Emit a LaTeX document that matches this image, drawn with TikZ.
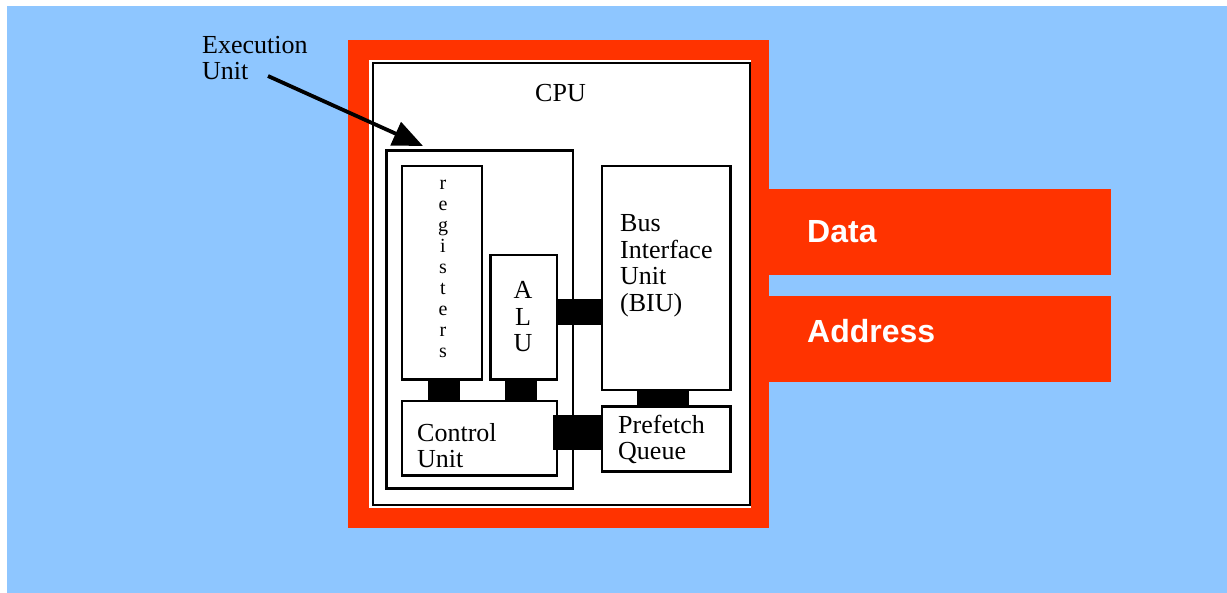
\documentclass[tikz,border=0pt]{standalone}
\usepackage{fontspec}
\setmainfont{Liberation Serif}
\newfontfamily\busfont{Liberation Sans}
\usepackage{xcolor}
\usetikzlibrary{arrows.meta,calc}
\definecolor{SkyBlue}{RGB}{142,198,255}
\definecolor{BusRed}{RGB}{255,51,0}

\begin{document}
\begin{tikzpicture}[x=1pt, y=-1pt,
		box/.style={draw, line width=2.2pt, fill=white, inner sep=0pt, outer sep=0pt, anchor=north west},
		bar/.style={line width=#1, line cap=butt},
		txt/.style={inner sep=0pt, font=\fontsize{26}{26.5}\selectfont, align=left},
		busbar/.style={fill=BusRed, inner sep=0pt, outer sep=0pt, anchor=north west, minimum width=342pt, minimum height=86pt},
		bustxt/.style={inner sep=0pt, anchor=base west, text=white, font=\busfont\bfseries\fontsize{32}{36}\selectfont},
		pointer/.style={-{Triangle[length=30pt,width=25pt]}, line width=3.8pt}]
		\useasboundingbox (0,0) rectangle (1227,593);
		
		% 背景
		\fill[SkyBlue] (7,6) rectangle (1227,593);
		
		% 红色外框与总线
		\fill[BusRed] (348,40) rectangle (769,528);
		\fill[white] (369,60) rectangle (751,508);
		\node[busbar] (data) at (769,189) {};
		\node[busbar] (address) at (769,296) {};
		\node[bustxt] (datalbl) at (807,243) {Data};
		\node[bustxt] (addrlbl) at (807,343) {Address};
		
		% CPU 与各单元
		\node[box, minimum width=377pt, minimum height=442pt] (cpu) at (373,63) {};
		\node[box, line width=2.8pt, minimum width=186.5pt, minimum height=338pt] (exec) at (386.5,150.5) {};
		\node[box, minimum width=80pt, minimum height=213.5pt] (regs) at (402,166) {};
		\node[box, minimum width=66.5pt, minimum height=124.5pt] (alu) at (490.5,255) {};
		\node[box, minimum width=155pt, minimum height=74.5pt] (ctrl) at (402,401) {};
		\node[box, minimum width=128.5pt, minimum height=224pt] (biu) at (602,166) {};
		\node[box, minimum width=128.5pt, minimum height=65pt] (pfq) at (602,406.5) {};
		
		% 单元之间的连接
		\draw[bar=32pt] ([xshift=2pt]regs.south) -- ([xshift=2pt]regs.south |- ctrl.north);
		\draw[bar=32pt] ([xshift=-3pt]alu.south) -- ([xshift=-3pt]alu.south |- ctrl.north);
		\draw[bar=26pt] ([yshift=5pt]alu.east) -- ([yshift=5pt]alu.east -| biu.west);
		\draw[bar=35pt] ([xshift=-4pt,yshift=5.75pt]ctrl.east) -- ([yshift=5.75pt]ctrl.east -| pfq.west);
		\draw[bar=52pt] ([xshift=-3pt]biu.south) -- ([xshift=-3pt]biu.south |- pfq.north);
		
		% 文字（base 取最后一行）
		\node[txt, anchor=base] (cpulbl) at (560.5,102) {CPU};
		\node[inner sep=0pt, align=center, font=\fontsize{20}{21}\selectfont, anchor=base] (regslbl) at (443,358) {r\\e\\g\\i\\s\\t\\e\\r\\s};
		\node[txt, align=center, anchor=base] (alulbl) at (523,352) {A\\L\\U};
		\node[txt, anchor=base west] (biulbl) at (620,311.5) {Bus\\Interface\\Unit\\(BIU)};
		\node[txt, anchor=base west] (ctrllbl) at (417,468) {Control\\Unit};
		\node[txt, anchor=base west] (pfqlbl) at (618,460) {Prefetch\\Queue};
		
		% 执行单元的标注箭头
		\node[txt, anchor=base west] (eulbl) at (202,80) {Execution\\Unit};
		\coordinate (eutail) at (268,76);
		\draw[pointer] (eutail) -- ([shift={(36.5,-4.5)}]exec.north west);
	\end{tikzpicture}
\end{document}
